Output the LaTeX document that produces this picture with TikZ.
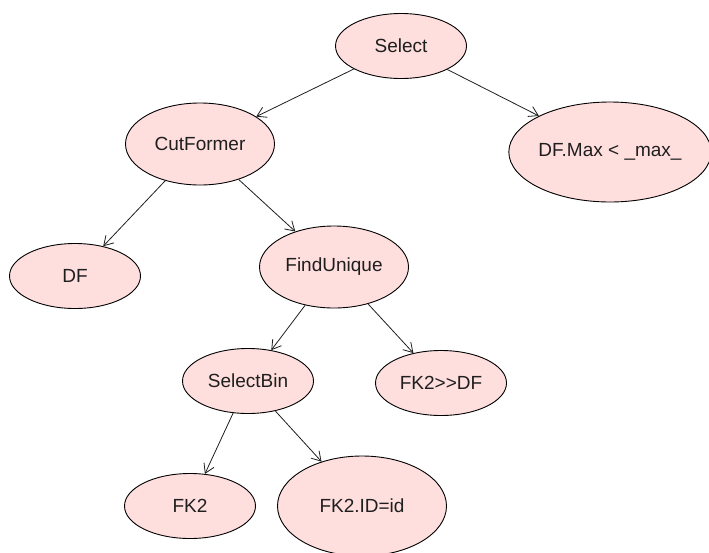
\documentclass[tikz,border=0pt]{standalone}
\usepackage{fontspec}
\setmainfont{Liberation Sans}
\usetikzlibrary{shapes.geometric,arrows.meta}
\definecolor{nodefill}{RGB}{255,222,222}
\definecolor{inkgray}{RGB}{30,30,30}
\begin{document}
\begin{tikzpicture}[x=1pt,y=-1pt,
  treenode/.style={ellipse, draw=black, line width=0.9pt, fill=nodefill,
    inner sep=0pt, text=inkgray, font=\fontsize{19}{22}\selectfont},
  smallnode/.style={treenode, minimum width=131pt, minimum height=65pt},
  midnode/.style={treenode, minimum width=149pt, minimum height=82pt},
  edge/.style={draw=inkgray, line width=0.8pt,
    -{Straight Barb[length=9pt,width=11pt,line width=0.8pt]}}]
\useasboundingbox (0,0) rectangle (709,552);

% operator tree
\node[smallnode] (select) at (401,46) {Select};
\node[midnode] (cut) at (200,144) {CutFormer};
\node[treenode, minimum width=199pt, minimum height=100pt] (dfmax) at (610,152) {DF.Max < \_max\_};
\node[smallnode] (df) at (75,276) {DF};
\node[midnode] (find) at (334,267) {FindUnique};
\node[smallnode] (selbin) at (248,381) {SelectBin};
\node[smallnode] (fkdf) at (441,383) {FK2>{}>DF};
\node[smallnode] (fk2) at (190,506) {FK2};
\node[treenode, minimum width=169pt, minimum height=100pt] (fkid) at (362,506) {FK2.ID=id};

% parent -> child links
\draw[edge] (select) -- (cut);
\draw[edge] (select) -- (dfmax);
\draw[edge] (cut) -- (df);
\draw[edge] (cut) -- (find);
\draw[edge] (find) -- (selbin);
\draw[edge] (find) -- (fkdf);
\draw[edge] (selbin) -- (fk2);
\draw[edge] (selbin) -- (fkid);
\end{tikzpicture}
\end{document}
